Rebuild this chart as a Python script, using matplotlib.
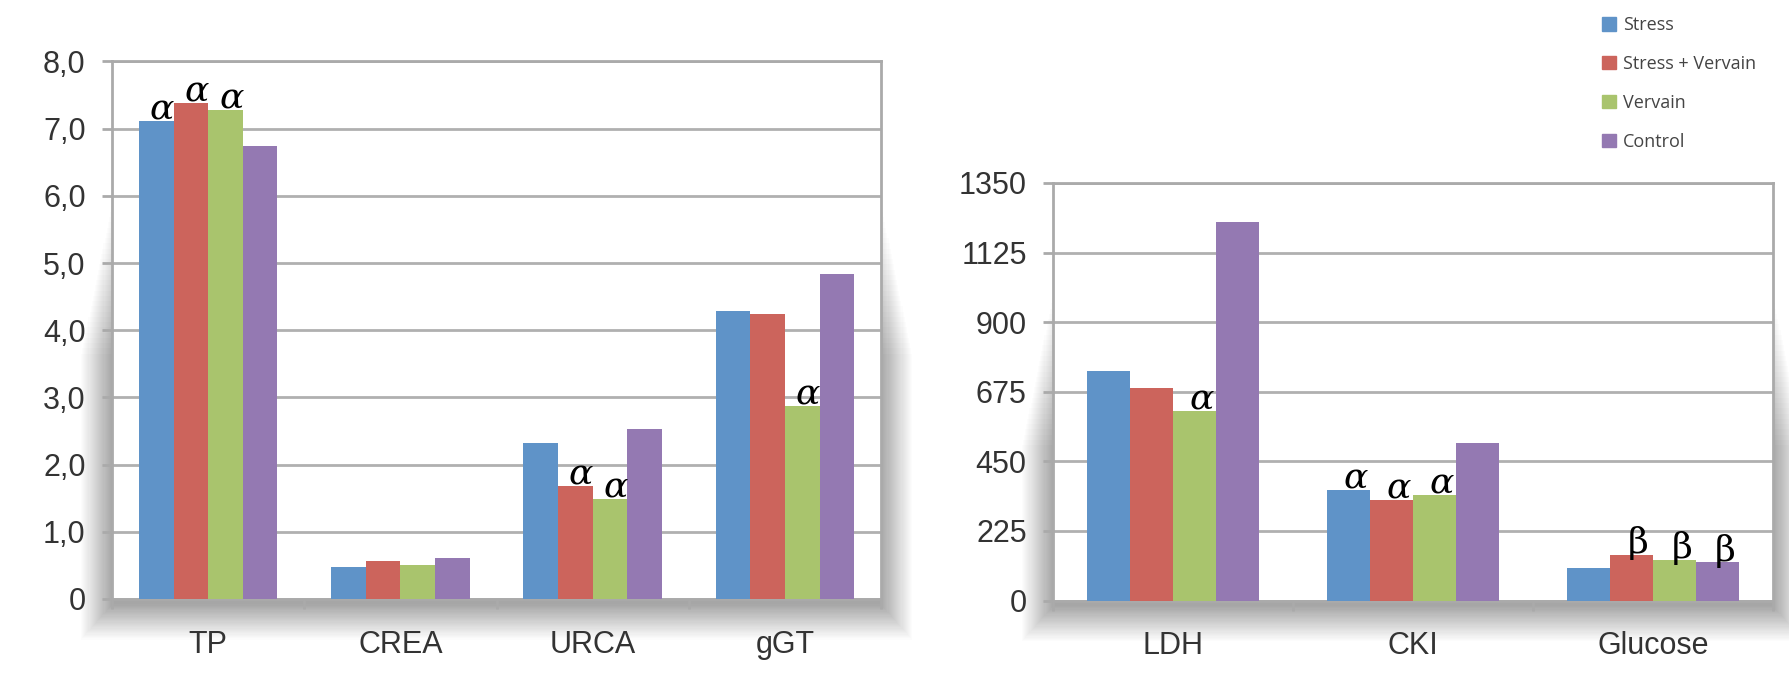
import numpy as np
import matplotlib.pyplot as plt
from matplotlib.patches import Rectangle, Patch

series = ["Stress", "Stress + Vervain", "Vervain", "Control"]
colors = ["#5F93C8", "#CC645C", "#A9C46D", "#9479B2"]

left_cats = ["TP", "CREA", "URCA", "gGT"]
left_vals = [
    [7.12, 0.47, 2.32, 4.29],   # Stress
    [7.38, 0.56, 1.68, 4.24],   # Stress + Vervain
    [7.28, 0.51, 1.49, 2.87],   # Vervain
    [6.74, 0.61, 2.53, 4.83],   # Control
]
left_ticks = [0, 1, 2, 3, 4, 5, 6, 7, 8]
left_ticklabels = ["0", "1,0", "2,0", "3,0", "4,0", "5,0", "6,0", "7,0", "8,0"]
# (category index, series index, symbol)
left_marks = [(0, 0, "α"), (0, 1, "α"), (0, 2, "α"), (2, 1, "α"), (2, 2, "α"), (3, 2, "α")]

right_cats = ["LDH", "CKI", "Glucose"]
right_vals = [
    [743, 357, 107],
    [686, 325, 149],
    [614, 340, 132],
    [1225, 510, 124],
]
right_ticks = [0, 225, 450, 675, 900, 1125, 1350]
right_marks = [(0, 2, "α"), (1, 0, "α"), (1, 1, "α"), (1, 2, "α"),
               (2, 1, "β"), (2, 2, "β"), (2, 3, "β")]

fig = plt.figure(figsize=(17.9, 6.74), dpi=100)
fig.patch.set_facecolor("white")

def shadow(rect):
    x0, y0, w, h = rect
    # soft drop shadow made of stacked translucent rectangles
    for i in range(30):
        g = i * 0.0006
        fig.patches.append(Rectangle((x0 - g, y0 - 3.0 * g - 0.008),
                                     w + 2 * g, h * 0.75 - 10 * g,
                                     transform=fig.transFigure, facecolor="black",
                                     edgecolor="none", alpha=0.011, zorder=0))

def draw(rect, cats, vals, ticks, ticklabels, marks, ymax):
    shadow(rect)
    ax = fig.add_axes(rect, zorder=2)
    ax.set_facecolor("white")
    n = len(cats)
    x = np.arange(n)
    w = 0.18
    for s in range(4):
        ax.bar(x + (s - 1.5) * w, vals[s], w, color=colors[s], zorder=3,
               edgecolor="none")
    for c, s, sym in marks:
        ax.annotate(sym, (x[c] + (s - 1.5) * w + 0.03, vals[s][c]),
                    xytext=(0, -4), textcoords="offset points",
                    ha="center", va="bottom", fontsize=26,
                    family=["DejaVu Serif"],
                    style="italic" if sym == "α" else "normal", zorder=5)
    ax.set_xlim(-0.5, n - 0.5)
    ax.set_ylim(0, ymax)
    ax.set_yticks(ticks)
    ax.set_yticklabels(ticklabels)
    ax.set_xticks(x)
    ax.set_xticklabels(cats)
    ax.set_xticks(np.arange(n + 1) - 0.5, minor=True)
    ax.tick_params(axis="x", which="major", length=0, pad=22)
    ax.tick_params(axis="x", which="minor", length=7, width=2, color="#aaaaaa")
    ax.tick_params(axis="y", length=7, width=2, color="#aaaaaa", pad=12)
    ax.tick_params(labelsize=22, labelcolor="#333333")
    for lab in ax.get_xticklabels() + ax.get_yticklabels():
        lab.set_family(["Liberation Sans", "DejaVu Sans"])
    ax.yaxis.grid(True, color="#b0b0b0", linewidth=2, zorder=1)
    ax.set_axisbelow(True)
    for sp in ax.spines.values():
        sp.set_color("#aaaaaa")
        sp.set_linewidth(2)
    return ax

draw([0.0626, 0.1113, 0.4296, 0.7975], left_cats, left_vals,
     left_ticks, left_ticklabels, left_marks, 8)
draw([0.5883, 0.1089, 0.4022, 0.6196], right_cats, right_vals,
     right_ticks, [str(t) for t in right_ticks], right_marks, 1350)

handles = [Patch(color=c) for c in colors]
fig.legend(handles, series, loc="upper left", bbox_to_anchor=(0.886, 1.0),
           frameon=False, labelspacing=1.15, handlelength=0.75,
           handleheight=0.75, handletextpad=0.4, labelcolor="#444444",
           prop={"family": ["Open Sans", "DejaVu Sans"], "size": 13})

fig.savefig("out.png", dpi=100, facecolor="white")
